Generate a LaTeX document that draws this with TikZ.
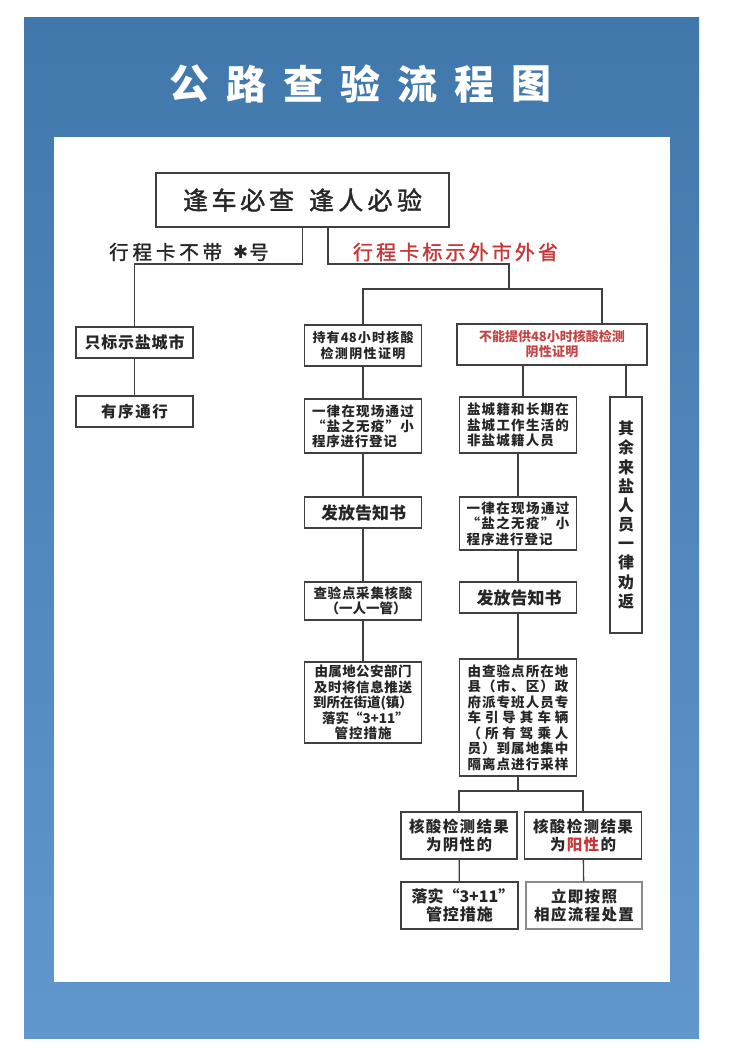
\documentclass[tikz,border=0pt]{standalone}
\usepackage{fontspec}
\setmainfont{Noto Sans CJK SC}
\newfontfamily\cjkm[FakeBold=1.5]{Noto Sans CJK SC}
\newfontfamily\djv{DejaVu Sans}
\usetikzlibrary{calc}
\definecolor{ln}{HTML}{404040}
\definecolor{lnl}{HTML}{8A8A8A}
\definecolor{tx}{HTML}{262626}
\definecolor{rd}{RGB}{200,55,55}
\definecolor{rdl}{RGB}{195,70,70}
\definecolor{bluetop}{RGB}{64,120,172}
\definecolor{bluebot}{RGB}{96,152,206}
\newcommand\jst[2]{\makebox[#1pt][s]{\jstB#2\relax}}
\def\jstB#1{{#1}\jstC}
\def\jstC#1{\ifx\relax#1\else\hfill#1\expandafter\jstC\fi}
\newcommand\rdt[1]{{\color{rd}#1}}
\newcommand\hstar{{\djv\bfseries\fontsize{18}{18}\selectfont ✱}}
\tikzset{
  bx/.style={draw=ln, line width=1.4pt, inner sep=0pt, text=tx, align=center},
  cn/.style={draw=ln, line width=1.3pt},
}
\begin{document}
\begin{tikzpicture}[x=1pt,y=-1pt]
\useasboundingbox (0,0) rectangle (750,1060);
\fill[white] (0,0) rectangle (750,1060);
\shade[top color=bluetop, bottom color=bluebot] (24,17) rectangle (699,1038);
\fill[white] (54,137) rectangle (670,982);
% title
\foreach \c [count=\i] in {公,路,查,验,流,程,图}
  \node[text=white, inner sep=0pt, font=\bfseries\fontsize{40}{40}\selectfont] (t\i) at ({189+57*(\i-1)},84) {\c};
% top
\node[bx, minimum width=293, minimum height=54, font=\cjkm\fontsize{25}{25}\selectfont] (top) at (302.5,200)
  {\jst{111}{逢车必查}\hspace{15pt}\jst{113}{逢人必验}};
\node[inner sep=0pt, text=tx, font=\cjkm\fontsize{19.5}{19.5}\selectfont] (l1) at (189,252)
  {\jst{113}{行程卡不带}\hspace{11pt}\raisebox{0.5pt}{\hstar}\hspace{1pt}号};
\node[inner sep=0pt, text=rd, font=\cjkm\fontsize{20}{20}\selectfont] (l2) at (455.5,252)
  {\jst{205}{行程卡标示外市外省}};
% left column
\node[bx, minimum width=117, minimum height=31, font=\bfseries\fontsize{16}{16}\selectfont] (a1) at (134.5,342.5)
  {\jst{100}{只标示盐城市}};
\node[bx, minimum width=117, minimum height=31, font=\bfseries\fontsize{15.5}{15.5}\selectfont] (a2) at (134.5,411.5)
  {\jst{67}{有序通行}};
% middle column
\node[bx, minimum width=117, minimum height=41, font=\bfseries\fontsize{13}{15.5}\selectfont] (m1) at (363,345.5)
  {\jst{101}{持有{48}小时核酸}\\\jst{85}{检测阴性证明}};
\node[bx, minimum width=117, minimum height=54, align=left, font=\bfseries\fontsize{13.5}{15}\selectfont] (m2) at (363,426)
  {\jst{102}{一律在现场通过}\\\jst{102}{“盐之无疫”小}\\\jst{85}{程序进行登记}};
\node[bx, minimum width=117, minimum height=31, font=\bfseries\fontsize{17}{17}\selectfont] (m3) at (363,512.5)
  {\jst{84}{发放告知书}};
\node[bx, minimum width=117, minimum height=38, font=\bfseries\fontsize{13.5}{15}\selectfont] (m4) at (363,601)
  {\jst{99}{查验点采集核酸}\\\jst{75}{（一人一管）}};
\node[bx, minimum width=117, minimum height=81, font=\bfseries\fontsize{13.5}{15.5}\selectfont] (m5) at (363,702.5)
  {\jst{97}{由属地公安部门}\\\jst{98}{及时将信息推送}\\\jst{100}{到所在街道{(镇}）}\\\jst{82}{落实{“3+11”}}\\\jst{57}{管控措施}};
% right column
\node[bx, minimum width=190, minimum height=41, text=rdl, font=\bfseries\fontsize{13}{15}\selectfont] (r1) at (552,344.5)
  {\jst{146}{不能提供{48}小时核酸检测}\\\jst{53}{阴性证明}};
\node[bx, minimum width=117, minimum height=56, align=left, font=\bfseries\fontsize{13.5}{15.5}\selectfont] (r2) at (518,425)
  {\jst{102}{盐城籍和长期在}\\\jst{102}{盐城工作生活的}\\\jst{87}{非盐城籍人员}};
\node[bx, minimum width=117, minimum height=53, align=left, font=\bfseries\fontsize{13.5}{15.5}\selectfont] (r3) at (518,523.5)
  {\jst{103}{一律在现场通过}\\\jst{103}{“盐之无疫”小}\\\jst{86}{程序进行登记}};
\node[bx, minimum width=117, minimum height=31, font=\bfseries\fontsize{17}{17}\selectfont] (r4) at (518,597.5)
  {\jst{83}{发放告知书}};
\node[bx, minimum width=117, minimum height=117, align=left, font=\bfseries\fontsize{13.5}{15.5}\selectfont] (r5) at (518,717.5)
  {\jst{101}{由查验点所在地}\\\jst{101}{县（市、区）政}\\\jst{101}{府派专班人员专}\\\jst{101}{车引导其车辆}\\\jst{101}{（所有驾乘人}\\\jst{101}{员）到属地集中}\\\jst{101}{隔离点进行采样}};
\node[bx, minimum width=32, minimum height=236, font=\bfseries\fontsize{16}{19.2}\selectfont] (rr) at (626,515)
  {其\\余\\来\\盐\\人\\员\\一\\律\\劝\\返};
% bottom
\node[bx, minimum width=116, minimum height=47, font=\bfseries\fontsize{15.5}{18}\selectfont] (n1) at (459,835.5)
  {\jst{100}{核酸检测结果}\\\jst{66}{为阴性的}};
\node[bx, minimum width=117, minimum height=47, font=\bfseries\fontsize{15.5}{18}\selectfont] (n2) at (583,835.5)
  {\jst{100}{核酸检测结果}\\\jst{66}{为{\rdt{阳}}{\rdt{性}}的}};
\node[bx, minimum width=117, minimum height=47, font=\bfseries\fontsize{16}{18}\selectfont] (n3) at (459.5,905.5)
  {\jst{96}{落实{“3+11”}}\\\jst{67}{管控措施}};
\node[bx, draw=lnl, minimum width=116, minimum height=47, font=\bfseries\fontsize{15.5}{18}\selectfont] (n4) at (584,905.5)
  {\jst{66}{立即按照}\\\jst{100}{相应流程处置}};
% junctions
\coordinate (jL) at (303,264);
\coordinate (jR) at (328,264);
\coordinate (jM) at (509,289);
\coordinate (jB) at (602,289);
\coordinate (xr2) at (523,0);
\coordinate (jS) at (519,791);
% connectors
\draw[cn] (top.south) -- (top.south |- jL) -| (a1.north);
\draw[cn] (a1) -- (a2);
\draw[cn] (jR |- top.south) -- (jR) -| (jM);
\draw[cn] (m1.north) |- (jB) -- (jB |- r1.north);
\draw[cn] (m1) -- (m2);
\draw[cn] (m2) -- (m3);
\draw[cn] (m3) -- (m4);
\draw[cn] (m4) -- (m5);
\draw[cn] (xr2 |- r1.south) -- (xr2 |- r2.north);
\draw[cn] (rr.north |- r1.south) -- (rr.north);
\draw[cn] (r2) -- (r3);
\draw[cn] (r3) -- (r4);
\draw[cn] (r4) -- (r5);
\draw[cn] (r5.south) -- (r5.south |- jS);
\draw[cn] (n1.north) |- (r5.south |- jS) -| (n2.north);
\draw[cn] (n1) -- (n3);
\draw[cn] (n2) -- (n4);
\end{tikzpicture}
\end{document}
